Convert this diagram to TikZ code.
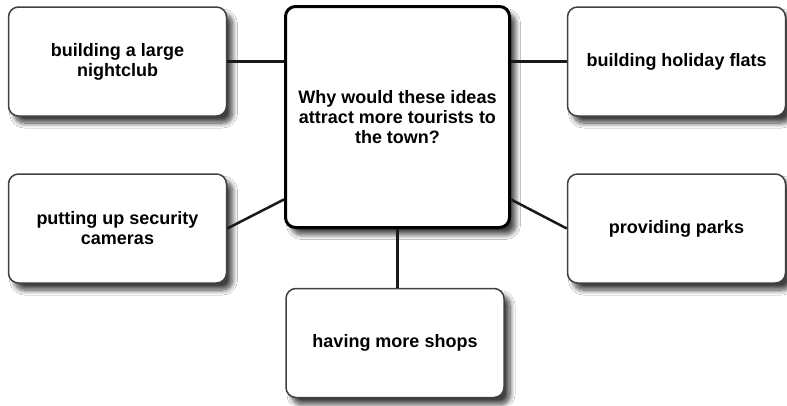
\documentclass[tikz,border=0pt]{standalone}
\usepackage{fontspec}
\setmainfont{Liberation Sans}
\usetikzlibrary{shadows.blur}
\tikzset{
	idea/.style={draw=black!75, line width=1.5pt, fill=white, rounded corners=10pt,
		minimum width=218pt, minimum height=109pt, align=center,
		font=\bfseries\fontsize{18}{20}\selectfont,
		blur shadow={shadow xshift=6pt, shadow yshift=-7pt, shadow blur radius=5pt, shadow blur steps=10, shadow opacity=75}},
	question/.style={idea, draw=black, line width=3pt, minimum width=224pt, minimum height=221pt},
	link/.style={line width=2.5pt, color=black!90}
}

\begin{document}
\begin{tikzpicture}[x=1pt, y=-1pt]
		%%%%% START %%%%%
		
		\useasboundingbox[fill=white] (0, 0) rectangle (787, 405);
		
		\node[question] (town) at (397.5, 117) {Why would these ideas\\attract more tourists to\\the town?};
		
		\node[idea] (club) at (117.5, 61.5) {building a large\\nightclub};
		\node[idea] (flats) at (676.5, 61.5) {building holiday flats};
		\node[idea] (cams) at (117.5, 228.5) {putting up security\\cameras};
		\node[idea] (parks) at (676.5, 228.5) {providing parks};
		\node[idea] (shops) at (395, 343) {having more shops};
		
		\draw[link] (club.east) -- (club.east -| town.west);
		\draw[link] (town.east |- flats.west) -- (flats.west);
		\draw[link] (cams.east) -- (town.216);
		\draw[link] (town.324) -- (parks.west);
		\draw[link] (town.south) -- (town.south |- shops.north);
		
		%%%%% END %%%%%
	\end{tikzpicture}
\end{document}
